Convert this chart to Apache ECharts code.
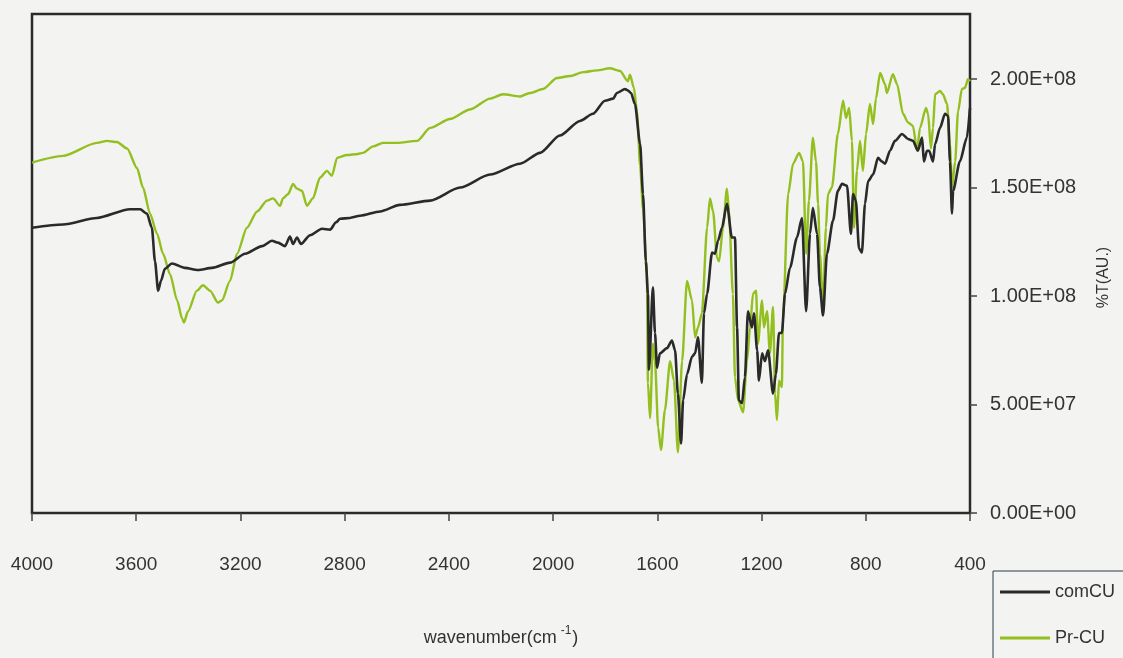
<!DOCTYPE html>
<html>
<head>
<meta charset="utf-8">
<script src="https://cdn.jsdelivr.net/npm/echarts@6/dist/echarts.min.js"></script>
<style>
  html, body { margin: 0; padding: 0; background: #f3f3f1; }
  #chart { width: 1123px; height: 658px; }
</style>
</head>
<body>
<div id="chart"></div>
<script>
// FT-IR spectra: wavenumber (cm-1) vs transmittance, values in units of 1e6
const comWn = [4000,3881,3751,3624,3585,3559,3540,3528,3516,3505,3490,3463,3413,3363,3309,3240,3182,3117,3079,3056,3029,3010,2998,2983,2968,2933,2887,2856,2833,2818,2780,2741,2664,2588,2472,2357,2242,2127,2050,1974,1897,1847,1801,1770,1755,1724,1716,1701,1686,1666,1655,1644,1636,1632,1617,1609,1601,1590,1563,1544,1532,1521,1509,1501,1486,1467,1455,1444,1429,1421,1409,1390,1379,1367,1352,1333,1314,1302,1294,1287,1275,1264,1252,1237,1229,1217,1210,1198,1187,1175,1156,1145,1133,1122,1110,1091,1064,1045,1029,1014,1003,987,976,964,949,926,907,891,872,857,849,838,826,815,803,791,772,753,738,726,707,688,661,638,619,600,584,577,565,557,542,534,515,496,484,477,469,465,439,412,400];
const comT = [131.5,133,136,140,140,138,131.5,116,102.5,107,112.6,115,113,112,113,115.4,119.5,123,125.5,124.6,123,127.4,124,127,124,128,131,130.6,134,135.6,136,137,139,142,144,150,156,161,166,174,180.7,184,190,191,193.6,195.4,195,193.6,188.5,170,147,116,101,66,104,83,67,73.6,76,79.5,75,55,32,52,64,72,73.6,81,60,92,101,120,119.5,125.5,131.5,142.5,127,127,85.5,52,50.6,62.5,93,85.5,92,75,61,73.6,70,75,55,64,83,83,101,113,127,136,93,128.7,140.7,128.7,104,91,119.5,134.7,148.5,151.7,150.8,128.7,147,144,122,120,142.5,153,156,163.7,162,161,167,171.5,174.7,172.4,171.5,167,173,162,167,167,162,170,177.5,184,183,162,138,148.5,162,173,186.7];

const prWn = [4000,3881,3751,3712,3674,3635,3597,3574,3547,3520,3497,3470,3443,3424,3417,3401,3367,3344,3317,3286,3271,3240,3213,3175,3136,3098,3075,3048,3037,3017,2998,2983,2964,2945,2922,2895,2868,2849,2829,2791,2749,2730,2691,2653,2599,2522,2472,2396,2319,2242,2192,2127,2089,2039,1985,1935,1885,1832,1782,1743,1713,1705,1690,1678,1666,1655,1640,1636,1628,1617,1609,1597,1586,1571,1551,1536,1521,1505,1486,1467,1455,1444,1429,1409,1398,1386,1371,1363,1348,1333,1325,1310,1302,1290,1271,1256,1244,1233,1221,1214,1198,1191,1179,1168,1156,1148,1141,1133,1122,1118,1098,1079,1056,1041,1029,1018,1003,991,983,976,964,953,945,930,907,887,876,864,853,845,834,822,811,799,784,772,761,745,726,719,696,680,657,638,619,603,592,569,561,550,542,534,515,504,488,477,469,457,446,431,419,408,400];
const prT = [161.5,164.6,170.6,171.5,171,168,159,150,138,128.7,119.5,110,98,89.7,87.8,93,102.5,105,102.5,97,98,107,119.5,131.5,139,144,145,141.6,145,147,151.7,149.5,148.5,141.6,145,154.5,157.7,155.4,163.7,165,165.5,166,169,170.6,170.6,171.5,177.5,181.6,186,191,193,192,193.6,195.4,200.5,201.4,203.2,204,205,203.7,199,202,196,185,160,140,110,60,43.7,78,70,39.5,29,47.4,70,61,28,70,107,98,81,85.5,92,131.5,145,139,117.7,116,131.5,149.5,139,101,62.5,52,46.4,70,85.5,101,102.5,78,98,85.5,93,73.6,95,55,42.8,61,58,88.7,147,161,166,162,119.5,144,173,162,142.5,119.5,95,131.5,147,150,174.7,190,182,186.7,171.5,131.5,157.7,171.5,157.7,174.7,188.5,179.3,191,202.8,197.7,193.6,202.3,197.7,184,180,178.4,167,177.5,186.7,184,168,177.5,193,194.5,193,188.5,170,150,162,185,195.4,196,200,199];

const seriesNames = ['comCU', 'Pr-CU'];
const seriesColors = ['#2a2a2a', '#93bf1f'];
const yTicks = [0, 5e7, 1e8, 1.5e8, 2e8];

const pairs = (xs, ys) => xs.map((x, i) => [x, ys[i] * 1e6]);

function sci(v) {
  if (v === 0) return '0.00E+00';
  const e = Math.floor(Math.log10(v) + 1e-9);
  const m = v / Math.pow(10, e);
  return m.toFixed(2) + 'E+' + String(e).padStart(2, '0');
}

const chart = echarts.init(document.getElementById('chart'), null, { renderer: 'canvas' });
const font = '"Liberation Sans", Arial, sans-serif';

chart.setOption({
  backgroundColor: '#f3f3f1',
  animation: false,
  grid: {
    left: 32, top: 14, right: 153, bottom: 145,
    show: true, borderColor: '#2a2a2a', borderWidth: 2.5,
    backgroundColor: 'transparent'
  },
  legend: {
    orient: 'vertical',
    left: 993, top: 571, width: 160, height: 160,
    padding: [12, 40, 40, 7],
    itemWidth: 50, itemHeight: 3, itemGap: 28,
    borderColor: '#2c3a48', borderWidth: 1,
    textStyle: { fontFamily: font, fontSize: 18, lineHeight: 18, color: '#333' },
    data: seriesNames.map((n, i) => ({ name: n, icon: 'rect', itemStyle: { color: seriesColors[i] } }))
  },
  xAxis: {
    type: 'value',
    inverse: true,
    min: 400, max: 4000, interval: 400,
    axisLine: { show: false },
    axisTick: { show: true, length: 8, lineStyle: { color: '#444', width: 1.5 } },
    splitLine: { show: false },
    axisLabel: { margin: 42, fontFamily: font, fontSize: 19, color: '#333', formatter: v => String(v) },
    name: '{a|wavenumber(cm}{s|-1}{a|)}',
    nameLocation: 'middle',
    nameGap: 112,
    nameTextStyle: {
      rich: {
        a: { fontFamily: font, fontSize: 18, color: '#333' },
        s: { fontFamily: font, fontSize: 12, color: '#333', padding: [0, 1, 14, 4] }
      }
    }
  },
  yAxis: {
    type: 'value',
    position: 'right',
    min: 0, max: 2.3e8, interval: 5e7,
    axisLine: { show: false },
    axisTick: { show: true, inside: false, length: 7, customValues: yTicks, lineStyle: { color: '#444', width: 1.5 } },
    splitLine: { show: false },
    axisLabel: { margin: 20, fontFamily: font, fontSize: 20, color: '#333', customValues: yTicks, formatter: sci },
    name: '%T(AU.)',
    nameLocation: 'middle',
    nameRotate: 90,
    nameGap: 126,
    nameTextStyle: { fontFamily: font, fontSize: 16, color: '#333', padding: [0, 28, 0, 0] }
  },
  series: [
    {
      name: seriesNames[0], type: 'line', data: pairs(comWn, comT),
      showSymbol: false, symbol: 'none', smooth: 0.25, smoothMonotone: 'x',
      lineStyle: { color: seriesColors[0], width: 2.6 }, itemStyle: { color: seriesColors[0] }, z: 3
    },
    {
      name: seriesNames[1], type: 'line', data: pairs(prWn, prT),
      showSymbol: false, symbol: 'none', smooth: 0.25, smoothMonotone: 'x',
      lineStyle: { color: seriesColors[1], width: 2.4 }, itemStyle: { color: seriesColors[1] }, z: 2
    }
  ]
});
</script>
</body>
</html>
